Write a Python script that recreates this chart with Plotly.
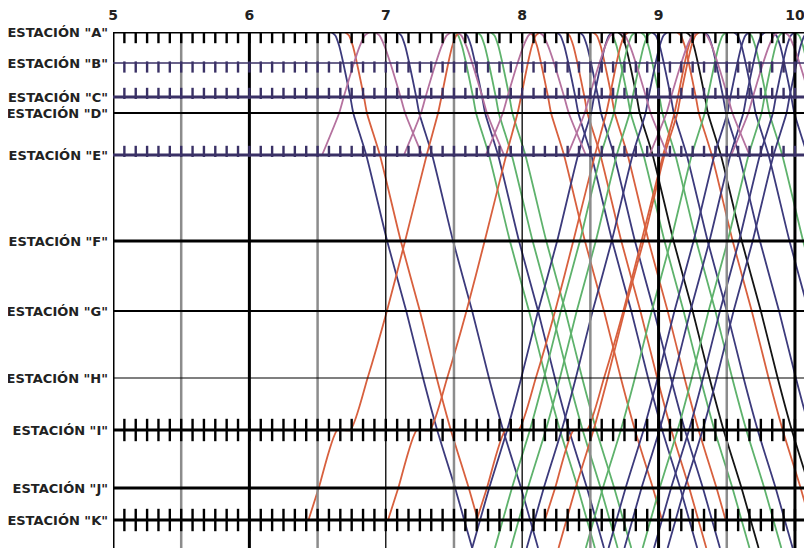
import plotly.graph_objects as go

# ---------------- data ----------------
STATIONS = ["A", "B", "C", "D", "E", "F", "G", "H", "I", "J", "K"]
STATION_KM = [0.0, 1.55, 3.25, 4.05, 6.15, 10.45, 13.95, 17.3, 19.9, 22.8, 24.4]
LINE_END_KM = 25.8          # bottom edge of the diagram
HOURS = [5, 6, 7, 8, 9, 10]
HALF_HOURS = [5.5, 6.5, 7.5, 8.5, 9.5]

# running profile of a through train (km from A, minutes from A)
PROFILE_KM = [0.0, 0.17, 0.69, 1.55, 3.25, 4.05, 6.15, 10.45, 13.95, 17.3, 19.9, 22.8, 24.4, 25.8]
PROFILE_MIN = [0.0, 1.8, 3.5, 5.3, 8.4, 9.7, 15.4, 24.6, 33.0, 40.4, 46.6, 54.5, 58.5, 62.0]

# local trains starting at K (with a stop at I), minutes from K departure
LOCAL_UP_KM = [24.4, 22.8, 19.9, 19.9, 17.3, 13.95, 10.45, 6.15, 4.05, 3.25, 1.55, 0.69, 0.17, 0.0]
LOCAL_UP_MIN = [0.0, 4.5, 12.7, 18.4, 26.0, 34.5, 42.5, 52.0, 57.0, 58.5, 61.5, 63.3, 65.0, 67.0]

# shuttle A <-> E, minutes from A
SHUTTLE_KM = [0.0, 0.17, 0.69, 1.55, 3.25, 4.05, 6.15]
SHUTTLE_MIN = [0.0, 2.2, 4.4, 7.0, 11.5, 13.5, 21.0]

# down trains: departure from A
DOWN_TIMES = ["6:36", "6:42", "7:05", "7:30", "7:34", "7:40", "7:46", "8:03", "8:15",
              "8:19", "8:25", "8:31", "8:38", "8:42", "8:52", "8:57", "9:08", "9:12",
              "9:20", "9:33", "9:39", "9:50", "10:00"]
DOWN_COLORS = ["navy", "red", "navy", "green", "navy", "green", "green", "red", "navy",
               "red", "navy", "red", "green", "black", "green", "navy", "red", "black",
               "navy", "navy", "green", "navy", "green"]
DOWN_TO = ["END", "K", "END", "END", "END", "END", "END", "K", "END",
           "END", "END", "K", "END", "END", "END", "END", "END", "END",
           "END", "END", "END", "END", "END"]

# up trains: arrival at A
UP_TIMES = ["8:40", "8:50", "8:57", "9:04", "9:18", "9:30", "9:40", "9:47", "9:55", "10:00", "10:06"]
UP_COLORS = ["navy", "green", "green", "navy", "red", "green", "navy", "navy", "green", "navy", "navy"]

# local trains leaving K upward
LOCAL_UP_DEP = ["6:26", "7:01", "7:40", "8:10"]
LOCAL_UP_COLORS = ["red", "red", "red", "red"]

# shuttles leaving E upward (they turn at A and come back to E)
SHUTTLE_E_DEP = ["6:32", "7:08", "7:44", "8:20", "8:56", "9:32"]
SHUTTLE_TURN_MIN = [2, 2, 2, 2, 2, 2]

COLORS = {"navy": "#3c3a7c", "red": "#d8603e", "green": "#5eb26c",
          "black": "#141414", "purple": "#b5729f"}

TICK_STEP_MIN = 5


def hm(s):
    h, m = s.split(":")
    return int(h) + int(m) / 60.0


fig = go.Figure()


def add_line(xs, ys, color, width=1.8):
    fig.add_trace(go.Scatter(x=xs, y=ys, mode="lines", line=dict(color=COLORS[color], width=width,
                                                                   shape="spline", smoothing=0.6),
                             hoverinfo="skip", showlegend=False))


# ---- trains ----
end_idx_K = PROFILE_KM.index(24.4)
for t, c, dest in zip(DOWN_TIMES, DOWN_COLORS, DOWN_TO):
    t0 = hm(t)
    n = len(PROFILE_KM) if dest == "END" else end_idx_K + 1
    add_line([t0 + m / 60 for m in PROFILE_MIN[:n]], PROFILE_KM[:n], c)

for t, c in zip(UP_TIMES, UP_COLORS):
    t1 = hm(t)
    add_line([t1 - m / 60 for m in PROFILE_MIN], PROFILE_KM, c)

for t, c in zip(LOCAL_UP_DEP, LOCAL_UP_COLORS):
    t0 = hm(t)
    add_line([t0 + m / 60 for m in LOCAL_UP_MIN], LOCAL_UP_KM, c)

for t, turn in zip(SHUTTLE_E_DEP, SHUTTLE_TURN_MIN):
    t0 = hm(t)
    total = SHUTTLE_MIN[-1]
    up_x = [t0 + (total - m) / 60 for m in SHUTTLE_MIN]
    add_line(up_x, SHUTTLE_KM, "purple")
    t_dep = t0 + (total + turn) / 60
    add_line([t_dep + m / 60 for m in SHUTTLE_MIN], SHUTTLE_KM, "purple")

# ---- vertical time lines ----
HOUR_WIDTH = {5: 3, 6: 3, 7: 1.3, 8: 1.3, 9: 3, 10: 3}
for h in HALF_HOURS:
    fig.add_trace(go.Scatter(x=[h, h], y=[0, LINE_END_KM], mode="lines",
                             line=dict(color="#8c8c8c", width=2.5), hoverinfo="skip", showlegend=False))
for h in HOURS:
    fig.add_trace(go.Scatter(x=[h, h], y=[0, LINE_END_KM], mode="lines",
                             line=dict(color="#000000", width=HOUR_WIDTH[h]), hoverinfo="skip",
                             showlegend=False))

# ---- station lines ----
PURPLE_LINE = "#3a3166"
STATION_STYLE = {
    "A": ("#000000", 3.0), "B": (PURPLE_LINE, 1.3), "C": (PURPLE_LINE, 3.0), "D": ("#000000", 2.2),
    "E": (PURPLE_LINE, 3.0), "F": ("#000000", 3.0), "G": ("#000000", 2.2), "H": ("#000000", 1.2),
    "I": ("#000000", 3.2), "J": ("#000000", 3.2), "K": ("#000000", 3.2),
}
for s, km in zip(STATIONS, STATION_KM):
    col, w = STATION_STYLE[s]
    fig.add_trace(go.Scatter(x=[5, 10.2], y=[km, km], mode="lines", line=dict(color=col, width=w),
                             hoverinfo="skip", showlegend=False))

# ---- 5-minute tick marks on some stations ----
tick_x = [5 + m / 60 for m in range(TICK_STEP_MIN, 5 * 60 + 10, TICK_STEP_MIN)]
# (station, offset in km (negative = above), marker size px, colour)
TICK_STATIONS = [("A", 0.0, 16, "#000000"), ("I", 0.0, 16, "#000000"), ("K", 0.0, 16, "#000000"),
                 ("B", 0.2, 8, PURPLE_LINE), ("C", -0.18, 8, PURPLE_LINE), ("E", -0.18, 8, PURPLE_LINE)]
for s, off, size, col in TICK_STATIONS:
    km = STATION_KM[STATIONS.index(s)]
    fig.add_trace(go.Scatter(x=tick_x, y=[km + off] * len(tick_x), mode="markers",
                             marker=dict(symbol="line-ns", size=size, line=dict(color=col, width=2.4)),
                             hoverinfo="skip", showlegend=False))

# the page body adds an 8 px border, so the figure is 8 px smaller than the window
fig.update_layout(
    width=804, height=540,
    margin=dict(l=105, r=0, t=24, b=0, autoexpand=False),
    paper_bgcolor="white", plot_bgcolor="white",
    showlegend=False,
    xaxis=dict(range=[5, 10.125], side="top", tickvals=HOURS, ticktext=[str(h) for h in HOURS],
               tickfont=dict(family="DejaVu Sans", size=14, color="#222222", weight="bold"),
               showgrid=False, zeroline=False, showline=False, ticks="", ticklabelstandoff=8,
               automargin=False),
    yaxis=dict(range=[LINE_END_KM, 0], tickvals=STATION_KM,
               ticktext=['ESTACIÓN "%s"' % s for s in STATIONS],
               tickfont=dict(family="DejaVu Sans", size=13, color="#222222", weight="bold"),
               showgrid=False, zeroline=False, showline=False, ticks="", ticklabelstandoff=4,
               automargin=False),
)

fig.write_html("out.html")
